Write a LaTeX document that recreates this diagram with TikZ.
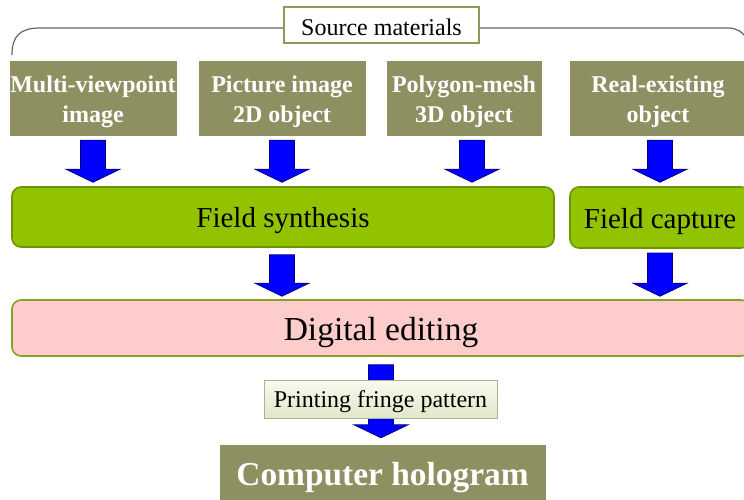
\documentclass[tikz,border=0pt]{standalone}
\usepackage{fontspec}
\setmainfont{Liberation Serif}
\usetikzlibrary{calc}
\definecolor{khaki}{HTML}{8F9062}
\definecolor{leaf}{HTML}{92C300}
\definecolor{leafdark}{HTML}{6F9400}
\definecolor{rose}{HTML}{FFCCCC}
\definecolor{roseedge}{HTML}{86A020}
\definecolor{srcedge}{HTML}{8A9A58}
\definecolor{bracketcol}{HTML}{6E6254}
\definecolor{navyedge}{HTML}{000080}
\definecolor{paletop}{HTML}{F9FAEE}
\definecolor{palebot}{HTML}{E2E7C9}
\definecolor{paleedge}{HTML}{A9B396}
% lower a line of text inside its box without changing the box size
\newcommand{\lowtext}[2]{\raisebox{-#1}[\height][\depth]{#2}}
\tikzset{
  x=1pt, y=-1pt,
  srcbox/.style={draw=khaki, fill=khaki, text=white, font=\fontsize{24}{30}\selectfont\bfseries,
    align=center, inner sep=0pt},
  fieldbox/.style={draw=leafdark, fill=leaf, line width=1.6pt, rounded corners=9pt,
    font=\fontsize{29}{32}\selectfont, inner sep=0pt},
  editbox/.style={draw=roseedge, fill=rose, line width=1.6pt, rounded corners=9pt,
    font=\fontsize{33.5}{36}\selectfont, inner sep=0pt},
  labelbox/.style={draw=srcedge, fill=white, line width=1.6pt,
    font=\fontsize{24}{26}\selectfont, inner sep=0pt},
  printbox/.style={draw=paleedge, top color=paletop, bottom color=palebot, line width=0.8pt,
    font=\fontsize{24}{26}\selectfont, inner sep=0pt},
  resultbox/.style={draw=khaki, fill=khaki, text=white,
    font=\fontsize{33.4}{36}\selectfont\bfseries, inner sep=0pt},
  bracketline/.style={draw=bracketcol, line width=1.2pt},
  blockarrow/.style={draw=navyedge, fill=blue, line width=0.8pt, line join=miter,
    to path={let \p1=(\tikztostart), \p2=(\tikztotarget) in
      (\x1-12.5pt,\y1) -- (\x1+12.5pt,\y1) -- (\x1+12.5pt,\y2+13pt)
      -- (\x1+27pt,\y2+13pt) -- (\x1,\y2) -- (\x1-27pt,\y2+13pt)
      -- (\x1-12.5pt,\y2+13pt) -- cycle}},
}
\begin{document}
\begin{tikzpicture}
\useasboundingbox (0,0) rectangle (744,500);

% source material boxes
\node[srcbox, minimum width=166, minimum height=74] (m1) at (93,98)
  {\lowtext{4pt}{Multi-viewpoint}\\\lowtext{4pt}{image}};
\node[srcbox, minimum width=166, minimum height=74] (m2) at (282,98)
  {\lowtext{4pt}{Picture image}\\\lowtext{4pt}{2D object}};
\node[srcbox, minimum width=154, minimum height=74] (m3) at (464,98)
  {\lowtext{4pt}{Polygon-mesh}\\\lowtext{4pt}{3D object}};
\node[srcbox, minimum width=176, minimum height=74] (m4) at (658,98)
  {\lowtext{4pt}{Real-existing}\\\lowtext{4pt}{object}};

% heading with its brace-like line
\node[labelbox, minimum width=195, minimum height=36] (src) at (381.5,25)
  {\lowtext{2pt}{Source materials}\hspace{16pt}};
\draw[bracketline] (12,55) .. controls (12,36) and (20,28) .. (40,28) -- (src.west |- 0,28);
\draw[bracketline] (src.east |- 0,28) -- (728,28) .. controls (736,28) and (742,31) .. (748,40);

% field stages
\node[fieldbox, minimum width=542, minimum height=60] (fs) at (283,217) {\lowtext{4pt}{Field synthesis}};
\node[fieldbox, minimum width=180, minimum height=61] (fc) at (660,217.5) {\lowtext{4pt}{Field capture}};

% digital editing
\node[editbox, minimum width=738, minimum height=56] (de) at (381,328) {\lowtext{4pt}{Digital editing}};

% output
\node[resultbox, minimum width=325, minimum height=60] (ch) at (382.5,475) {\lowtext{3pt}{Computer hologram}};

% arrows
\draw[blockarrow] ($(m1.south)+(0,5)$) to ($(fs.north)+(0,-4)$);
\draw[blockarrow] ($(m2.south)+(0,5)$) to ($(fs.north)+(0,-4)$);
\draw[blockarrow] ($(m3.south)+(8,5)$) to ($(fs.north)+(0,-4)$);
\draw[blockarrow] ($(m4.south)+(2,5)$) to ($(fc.north)+(0,-4)$);
\draw[blockarrow] ($(fs.south)+(-1,7)$) to ($(de.north)+(0,-3)$);
\draw[blockarrow] (fc.south |- 0,253) to ($(de.north)+(0,-3)$);
\draw[blockarrow] ($(de.south)+(0,8)$) to ($(ch.north)+(0,-7)$);

% the print label sits on top of its arrow
\node[printbox, minimum width=233, minimum height=38] (pf) at (380.5,399) {\lowtext{2.5pt}{Printing fringe pattern}};
\end{tikzpicture}
\end{document}
